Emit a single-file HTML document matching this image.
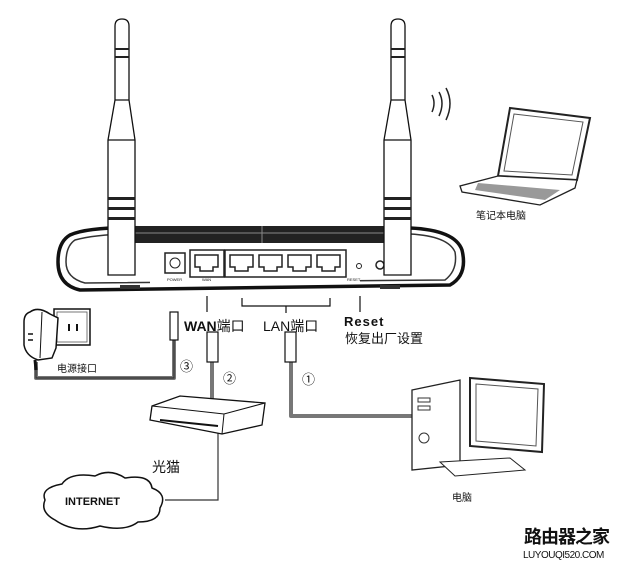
<!DOCTYPE html>
<html><head><meta charset="utf-8"><style>
html,body{margin:0;padding:0;background:#fff;width:618px;height:566px;overflow:hidden}
svg{display:block}
text{font-family:"Liberation Sans","Noto Sans CJK SC",sans-serif;fill:#111}
</style></head><body>
<svg width="618" height="566" viewBox="0 0 618 566">
<!-- cables -->
<g fill="none" stroke="#777" stroke-width="4" stroke-linejoin="round">
<path d="M174 340 V378 H36 V362"/>
<path d="M212 360 V402"/>
<path d="M291 360 V416 H412"/>
</g>
<g fill="none" stroke="#333" stroke-width="1.2">
<path d="M174 340 V378 H36 V362"/>
<path d="M218 432 V500 H165"/>
</g>
<!-- router body -->
<path d="M70 235 Q90 226 150 228 L410 228 Q455 230 462 250 Q468 275 450 285 L80 290 Q58 285 58 262 Q58 242 70 235Z" fill="#fff" stroke="#111" stroke-width="3.5"/>
<path d="M75 240 Q100 233 150 234 L410 234 Q448 236 455 252 Q458 270 445 280 L85 283 Q66 278 66 262 Q66 246 75 240Z" fill="none" stroke="#333" stroke-width="1.5"/>
<path d="M130 226 L400 226 L400 243 L130 243Z" fill="#222"/>
<path d="M130 233 L400 233" stroke="#888" stroke-width="1"/>
<path d="M262 226 V243" stroke="#888"/>
<rect x="150" y="246" width="210" height="38" fill="#fff"/>
<rect x="120" y="285" width="20" height="4" fill="#333"/>
<rect x="380" y="285" width="20" height="4" fill="#333"/>
<!-- ports -->
<rect x="165" y="253" width="20" height="20" fill="#fff" stroke="#222" stroke-width="1.5"/>
<circle cx="175" cy="263" r="5" fill="none" stroke="#222"/>
<rect x="190" y="250" width="34" height="27" fill="none" stroke="#222" stroke-width="1.5"/>
<rect x="225" y="250" width="121" height="27" fill="none" stroke="#222" stroke-width="1.5"/>
<g fill="none" stroke="#222" stroke-width="1.5">
<path d="M195 255h23v12h-5v4h-13v-4h-5z"/>
<path d="M230 255h23v12h-5v4h-13v-4h-5z"/>
<path d="M259 255h23v12h-5v4h-13v-4h-5z"/>
<path d="M288 255h23v12h-5v4h-13v-4h-5z"/>
<path d="M317 255h23v12h-5v4h-13v-4h-5z"/>
</g>
<circle cx="359" cy="266" r="2.5" fill="none" stroke="#222"/>
<circle cx="380" cy="265" r="4" fill="none" stroke="#222" stroke-width="1.5"/>
<g font-size="4" fill="#333"><text x="167" y="281">POWER</text><text x="202" y="281">WAN</text><text x="347" y="281">RESET</text></g>
<!-- antennas -->
<g stroke="#111" stroke-width="1.3" fill="#fff">
<path d="M115 26 Q115 19 122 19 Q129 19 129 26 L129 100 L135 140 L135 275 L108 275 L108 140 L115 100Z"/>
<path d="M115 100 H129 M108 140 H135"/>
<path d="M391 26 Q391 19 398 19 Q405 19 405 26 L405 100 L411 140 L411 275 L384 275 L384 140 L391 100Z"/>
<path d="M391 100 H405 M384 140 H411"/>
</g>
<g fill="#222"><rect x="115" y="48" width="14" height="2"/><rect x="115" y="56" width="14" height="2"/><rect x="108" y="197" width="27" height="3"/><rect x="108" y="207" width="27" height="3"/><rect x="108" y="217" width="27" height="3"/>
<rect x="391" y="48" width="14" height="2"/><rect x="391" y="56" width="14" height="2"/><rect x="384" y="197" width="27" height="3"/><rect x="384" y="207" width="27" height="3"/><rect x="384" y="217" width="27" height="3"/></g>
<!-- leader lines -->
<g stroke="#111" stroke-width="1.2" fill="none">
<path d="M207 296 V312"/><path d="M242 298 V306 H330 V298 M286 306 V313"/><path d="M360 296 V312"/>
</g>
<text x="184" y="331" font-size="14" font-weight="bold">WAN<tspan font-weight="normal">端口</tspan></text>
<text x="263" y="331" font-size="14">LAN端口</text>
<text x="344" y="326" font-size="13" font-weight="bold" letter-spacing="1">Reset</text>
<text x="345" y="343" font-size="13">恢复出厂设置</text>
<!-- plugs -->
<g stroke="#111" fill="#fff" stroke-width="1.2">
<rect x="170" y="312" width="8" height="28"/><rect x="207" y="332" width="11" height="30"/><rect x="285" y="332" width="11" height="30"/>
</g>
<g font-size="13"><text x="180" y="371">③</text><text x="223" y="383">②</text><text x="302" y="384">①</text></g>
<!-- power socket -->
<rect x="54" y="309" width="36" height="36" fill="#fff" stroke="#111" stroke-width="1.5"/>
<rect x="57" y="312" width="30" height="30" fill="none" stroke="#555" stroke-width="0.8"/>
<rect x="68" y="324" width="2" height="7" fill="#111"/><rect x="76" y="324" width="2" height="7" fill="#111"/>
<path d="M30 312 Q38 306 50 314 L58 318 L56 348 L52 358 L38 360 Q26 356 24 345 L24 322 Q24 314 30 312Z" fill="#fff" stroke="#111" stroke-width="1.5"/>
<path d="M42 312 L40 358" stroke="#111" stroke-width="1"/>
<path d="M28 334 L33 334 M28 340 L33 340" stroke="#111" stroke-width="1.5"/>
<path d="M35 360 L36 370" stroke="#111" stroke-width="3"/>
<text x="57" y="372" font-size="10">电源接口</text>
<!-- modem -->
<path d="M152 406 L180 396 L265 403 L262 425 L222 434 L150 420Z" fill="#fff" stroke="#111" stroke-width="1.3"/>
<path d="M152 406 L224 414 L265 403 M224 414 L222 434" fill="none" stroke="#111"/>
<path d="M160 420 L218 426" stroke="#111" stroke-width="2"/>
<text x="152" y="472" font-size="14">光猫</text>
<!-- cloud -->
<path d="M55 520 Q40 512 45 500 Q40 488 62 484 Q70 472 95 476 Q110 468 125 478 Q150 474 152 488 Q168 494 160 508 Q160 522 138 522 Q125 532 100 526 Q75 534 55 520Z" fill="#fff" stroke="#111" stroke-width="1.5"/>
<text x="65" y="505" font-size="11" font-weight="bold">INTERNET</text>
<!-- computer -->
<path d="M412 390 L460 380 L460 465 L412 470Z" fill="#fff" stroke="#222" stroke-width="1.3"/>
<path d="M470 378 L544 384 L542 452 L470 446Z" fill="#fff" stroke="#222" stroke-width="2"/>
<path d="M476 384 L538 389 L536 446 L476 441Z" fill="none" stroke="#555"/>
<path d="M440 462 L510 458 L525 470 L455 476Z" fill="#fff" stroke="#222"/>
<g fill="none" stroke="#333"><rect x="418" y="398" width="12" height="4"/><rect x="418" y="406" width="12" height="4"/><circle cx="424" cy="438" r="5"/></g>
<text x="452" y="501" font-size="10">电脑</text>
<!-- laptop -->
<path d="M510 108 L590 118 L577 180 L498 176Z" fill="#fff" stroke="#222" stroke-width="2"/>
<path d="M514 114 L583 122 L572 175 L504 171Z" fill="none" stroke="#555"/>
<path d="M498 176 L577 180 L575 188 L540 205 L462 192 L460 186Z" fill="#fff" stroke="#222" stroke-width="1.3"/>
<path d="M478 183 L560 190 L545 200 L475 190Z" fill="#999"/>
<text x="476" y="219" font-size="10">笔记本电脑</text>
<g fill="none" stroke="#222" stroke-width="1.5"><path d="M432 95 Q436 103 432 112"/><path d="M439 92 Q445 103 439 116"/><path d="M446 88 Q454 103 446 120"/></g>
<!-- logo -->
<text x="524" y="543" font-size="18" font-weight="bold" letter-spacing="-1">路由器之家</text>
<text x="523" y="558" font-size="10" letter-spacing="-0.5">LUYOUQI520.COM</text>
</svg>
</body></html>
